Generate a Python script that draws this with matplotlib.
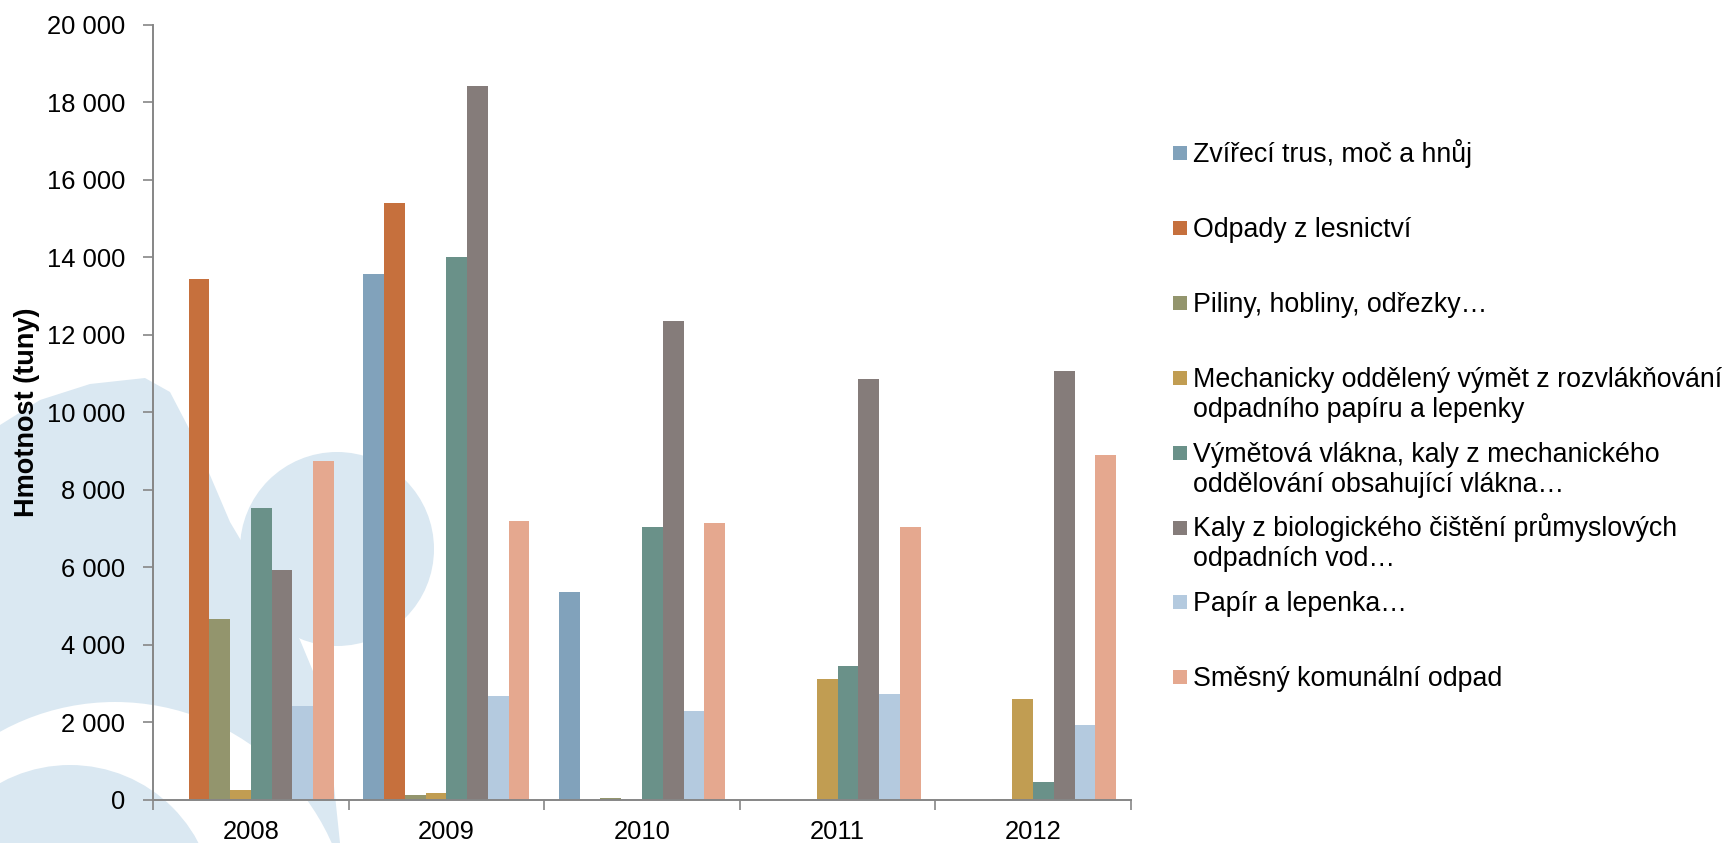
import numpy as np
import matplotlib.pyplot as plt
from matplotlib.patches import Polygon, Circle, Rectangle
from matplotlib.ticker import FuncFormatter, FixedLocator

plt.rcParams['font.family'] = ['Liberation Sans', 'DejaVu Sans']

years = ['2008', '2009', '2010', '2011', '2012']
labels = [
    'Zvířecí trus, moč a hnůj',
    'Odpady z lesnictví',
    'Piliny, hobliny, odřezky…',
    'Mechanicky oddělený výmět z rozvlákňování\nodpadního papíru a lepenky',
    'Výmětová vlákna, kaly z mechanického\noddělování obsahující vlákna…',
    'Kaly z biologického čištění průmyslových\nodpadních vod…',
    'Papír a lepenka…',
    'Směsný komunální odpad',
]
zvireci = [0, 13570, 5350, 0, 0]
lesnictvi = [13430, 15400, 0, 0, 0]
piliny = [4650, 110, 30, 0, 20]
mechanicky = [240, 170, 0, 3110, 2600]
vymetova = [7530, 14010, 7040, 3460, 460]
kaly = [5930, 18430, 12350, 10850, 11070]
papir = [2420, 2670, 2280, 2720, 1920]
smesny = [8750, 7180, 7140, 7030, 8900]
series = [zvireci, lesnictvi, piliny, mechanicky, vymetova, kaly, papir, smesny]
colors = ['#81a2bb', '#c6703d', '#93956d', '#c19d52',
          '#6a9189', '#857c7a', '#b4cadf', '#e5a88f']

W, H = 1725, 843
fig = plt.figure(figsize=(W / 100, H / 100), dpi=100)

# background watermark + legend, in pixel coordinates
bg = fig.add_axes([0, 0, 1, 1], zorder=0)
bg.set_xlim(0, W)
bg.set_ylim(H, 0)
bg.axis('off')
wm = '#dae8f2'
bg.add_patch(Polygon([(0, 425), (40, 400), (90, 384), (145, 378), (170, 392),
                      (195, 440), (230, 522), (300, 640), (325, 700),
                      (340, 843), (0, 843)],
                     closed=True, fc=wm, ec='none'))
bg.add_patch(Circle((337, 549), 97, fc=wm, ec='none'))
bg.add_patch(Circle((115, 939), 237, fc='white', ec='none'))
bg.add_patch(Circle((70, 910), 145, fc=wm, ec='none'))

ax = fig.add_axes([153 / W, 1 - 799.5 / H, (1131 - 153) / W, (799.5 - 25) / H], zorder=1)
ax.patch.set_alpha(0)

x = np.arange(len(years))
w = 1 / 9.42
for i, (vals, col) in enumerate(zip(series, colors)):
    ax.bar(x + (i - 3.5) * w, vals, w, color=col, linewidth=0)

ax.set_xlim(-0.5, len(years) - 0.5)
ax.set_ylim(0, 20000)
ax.set_yticks(np.arange(0, 20001, 2000))
ax.yaxis.set_major_formatter(FuncFormatter(lambda v, p: f'{int(v):,}'.replace(',', ' ')))
ax.set_xticks(x)
ax.set_xticklabels(years)
ax.xaxis.set_minor_locator(FixedLocator(np.arange(-0.5, len(years), 1)))

gray = '#868686'
for s in ['top', 'right']:
    ax.spines[s].set_visible(False)
for s in ['left', 'bottom']:
    ax.spines[s].set_color(gray)
    ax.spines[s].set_linewidth(1.4)
ax.tick_params(axis='y', direction='out', length=7, width=1.2, color=gray,
               labelsize=18.4, pad=13)
ax.tick_params(axis='x', which='major', length=0, labelsize=18.4, pad=15)
ax.tick_params(axis='x', which='minor', direction='out', length=7, width=1.2, color=gray)

ax.set_ylabel('Hmotnost (tuny)', fontsize=19.5, fontweight='bold')
ax.yaxis.set_label_coords(-0.116, 0.5)

# legend drawn by hand, entries top-aligned in equal slots
for i, (lab, col) in enumerate(zip(labels, colors)):
    base = 162 + i * 74.9
    bg.add_patch(Rectangle((1173, base - 16), 14, 14, fc=col, ec='none'))
    for j, line in enumerate(lab.split('\n')):
        bg.text(1193, base + j * 30, line, fontsize=19.3, va='baseline', ha='left')

fig.savefig('out.png', dpi=100)
